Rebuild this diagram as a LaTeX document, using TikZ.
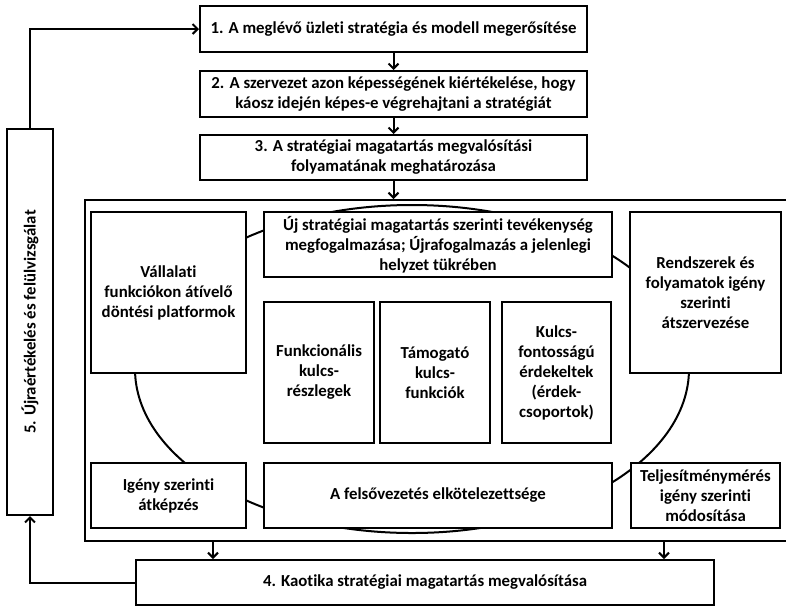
\documentclass[tikz,border=0pt]{standalone}
\usepackage{fontspec}
\setmainfont{Carlito}[Ligatures=NoCommon]
\usetikzlibrary{arrows.meta}

\tikzset{
  box/.style={draw, fill=white, line width=2pt, align=center, inner sep=2pt,
    font=\bfseries\fontsize{16.8}{20}\selectfont},
  arr/.style={line width=2pt, -{Straight Barb[length=5pt,width=10pt,line width=2pt]}},
}

\begin{document}
\begin{tikzpicture}[x=1pt, y=-1pt]
  \useasboundingbox (0,0) rectangle (786,606);

  % felso lepesek
  \node[box, minimum width=387, minimum height=46] (b1) at (393.5,29)
    {1. A meglévő üzleti stratégia és modell megerősítése};
  \node[box, minimum width=387, minimum height=46] (b2) at (393.5,94)
    {2. A szervezet azon képességének kiértékelése, hogy\\káosz idején képes-e végrehajtani a stratégiát};
  \node[box, minimum width=387, minimum height=45] (b3) at (393.5,157.5)
    {3. A stratégiai magatartás megvalósítási\\folyamatának meghatározása};

  % keret es ellipszis
  \node[box, minimum width=704, minimum height=341] (frame) at (437,370.5) {};
  \draw[line width=2pt] (412,369) ellipse [x radius=277pt, y radius=164pt];

  % belso dobozok
  \node[box, minimum width=155, minimum height=161] (vall) at (168.5,292.5)
    {Vállalati\\funkciókon átívelő\\döntési platformok};
  \node[box, minimum width=348, minimum height=65] (uj) at (438,244.5)
    {Új stratégiai magatartás szerinti tevékenység\\megfogalmazása; Újrafogalmazás a jelenlegi\\helyzet tükrében};
  \node[box, minimum width=151, minimum height=161] (rend) at (705.5,292.5)
    {Rendszerek és\\folyamatok igény\\szerinti\\átszervezése};
  \node[box, minimum width=110, minimum height=141] (funk) at (319,372.5)
    {Funkcionális\\kulcs-\\részlegek};
  \node[box, minimum width=110, minimum height=141] (tam) at (435,372.5)
    {Támogató\\kulcs-\\funkciók};
  \node[box, minimum width=109, minimum height=141] (kulcs) at (556.5,372.5)
    {Kulcs-\\fontosságú\\érdekeltek\\(érdek-\\csoportok)};
  \node[box, minimum width=155, minimum height=65] (igeny) at (168.5,495.5)
    {Igény szerinti\\átképzés};
  \node[box, minimum width=348, minimum height=65] (felso) at (438,495.5)
    {A felsővezetés elkötelezettsége};
  \node[box, minimum width=149, minimum height=65] (telj) at (705.5,495.5)
    {Teljesítménymérés\\igény szerinti\\módosítása};

  % also es oldalso lepes
  \node[box, minimum width=578, minimum height=45] (b4) at (425,582.5)
    {4. Kaotika stratégiai magatartás megvalósítása};
  \node[box, minimum width=46, minimum height=386] (b5) at (30,322)
    {\rotatebox{90}{5. Újraértékelés és felülvizsgálat}};

  % nyilak
  \draw[arr] (b1) -- (b2);
  \draw[arr] (b2) -- (b3);
  \draw[arr] (b3.south) -- (b3.south |- frame.north);
  \coordinate (o1) at (213,541);
  \coordinate (o2) at (664,541);
  \draw[arr] (o1) -- (o1 |- b4.north);
  \draw[arr] (o2) -- (o2 |- b4.north);
  \draw[arr] (b4.west) -| (b5.south);
  \draw[arr] (b5.north) |- (b1.west);
\end{tikzpicture}
\end{document}
